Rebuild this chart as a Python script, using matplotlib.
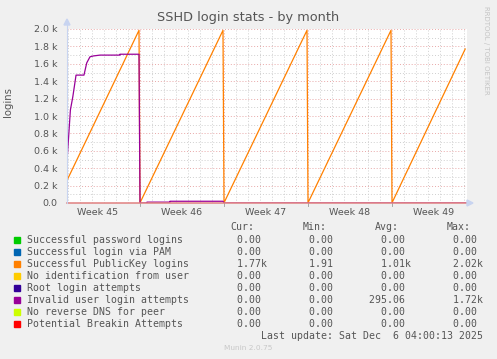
import matplotlib
matplotlib.use("Agg")
import matplotlib.pyplot as plt
from matplotlib.patches import Polygon, Rectangle

# ---------------- data ----------------
title = "SSHD login stats - by month"
ylabel = "logins"
week_labels = ["Week 45", "Week 46", "Week 47", "Week 48", "Week 49"]
week_centers = [-3.5, 3.5, 10.5, 17.5, 24.5]        # days relative to start of week 46
x_range = [-73 / 12, 327 / 12]                      # visible time span in days
y_ticks = [0, 200, 400, 600, 800, 1000, 1200, 1400, 1600, 1800, 2000]
y_tick_labels = ["0.0", "0.2 k", "0.4 k", "0.6 k", "0.8 k", "1.0 k",
                 "1.2 k", "1.4 k", "1.6 k", "1.8 k", "2.0 k"]

series_names = ["Successful password logins", "Successful login via PAM",
                "Successful PublicKey logins", "No identification from user",
                "Root login attempts", "Invalid user login attempts",
                "No reverse DNS for peer", "Potential Breakin Attempts"]
series_colors = ["#00CC00", "#0066B3", "#FF8000", "#FFCC00",
                 "#330099", "#990099", "#CCFF00", "#FF0000"]

pubkey_t = [-6.083, -0.083, 0.0, 6.917, 7.0, 13.917, 14.0, 20.917, 21.0, 27.1]
pubkey_v = [260, 1985, 2, 1985, 2, 1985, 2, 1985, 2, 1770]

invalid_t = [-6.083, -5.8, -5.6, -5.33, -4.67, -4.44, -4.17, -3.9, -3.33,
             -1.67, -1.67, -0.083, 0.0, 0.58, 0.58, 2.5, 2.5, 6.92, 7.0, 27.25]
invalid_v = [480, 1070, 1220, 1470, 1470, 1610, 1680, 1690, 1700,
             1700, 1710, 1710, 0, 0, 10, 10, 20, 20, 0, 0]

zero_t = [-6.083, 27.25]
zero_v = [0, 0]

cur_vals = ["  0.00 ", "  0.00 ", "  1.77k", "  0.00 ", "  0.00 ", "  0.00 ", "  0.00 ", "  0.00 "]
min_vals = ["  0.00 ", "  0.00 ", "  1.91 ", "  0.00 ", "  0.00 ", "  0.00 ", "  0.00 ", "  0.00 "]
avg_vals = ["  0.00 ", "  0.00 ", "  1.01k", "  0.00 ", "  0.00 ", "295.06 ", "  0.00 ", "  0.00 "]
max_vals = ["  0.00 ", "  0.00 ", "  2.02k", "  0.00 ", "  0.00 ", "  1.72k", "  0.00 ", "  0.00 "]
col_headers = ["Cur:", "Min:", "Avg:", "Max:"]
last_update = "Last update: Sat Dec  6 04:00:13 2025"
version = "Munin 2.0.75"
side_text = "RRDTOOL / TOBI OETIKER"

# ---------------- figure ----------------
W, H = 497, 359
fig = plt.figure(figsize=(W / 100, H / 100), dpi=100, facecolor="#F0F0F0")

def fx(px):
    return px / W

def fy(py):
    return 1 - py / H

L, R, T, B = 67, 467, 29, 203
ax = fig.add_axes([fx(L), fy(B), fx(R) - fx(L), fy(T) - fy(B)])
ax.set_facecolor("white")
ax.set_xlim(*x_range)
ax.set_ylim(0, 2000)
for s in ax.spines.values():
    s.set_visible(False)

# grid
minor_grid = "#CFCFCF"
major_grid = "#E8A8A8"
for v in range(100, 2001, 100):
    major = v % 200 == 0
    ax.axhline(v, color=major_grid if major else minor_grid, lw=0.7,
               ls=(0, (1, 2)), zorder=1)
d = -6
while d <= x_range[1]:
    major = d % 7 == 0
    ax.axvline(d, color=major_grid if major else minor_grid, lw=0.7,
               ls=(0, (1, 2)), zorder=1)
    d += 1

# series
for i, (name, col) in enumerate(zip(series_names, series_colors)):
    if i == 2:
        ax.plot(pubkey_t, pubkey_v, color=col, lw=0.9, zorder=3)
    elif i == 5:
        ax.plot(invalid_t, invalid_v, color=col, lw=0.9, zorder=3)
    else:
        ax.plot(zero_t, zero_v, color=col, lw=0.6, zorder=3)
ax.plot(zero_t, zero_v, color="#E08080", lw=1.1, zorder=4, clip_on=False)

# ticks
ax.set_yticks(y_ticks)
ax.set_yticklabels(y_tick_labels)
ax.set_xticks(week_centers)
ax.set_xticklabels(week_labels)
ax.tick_params(axis="both", length=0, labelsize=6.8, colors="#555555")
ax.tick_params(axis="y", pad=7)
ax.tick_params(axis="x", pad=3.5)
for d in [0, 7, 14, 21]:
    ax.plot([d, d], [-30, 0], color="#999999", lw=0.6, clip_on=False, zorder=2)

# axis lines and arrows (figure coordinates)
axis_col = "#C8D4F0"
fig.add_artist(plt.Line2D([fx(L), fx(L)], [fy(B), fy(24)], color=axis_col, lw=0.8))
fig.add_artist(Polygon([[fx(L - 3), fy(25)], [fx(L + 3), fy(25)], [fx(L), fy(19)]],
                       closed=True, color=axis_col, transform=fig.transFigure))
fig.add_artist(Polygon([[fx(R), fy(B - 3)], [fx(R), fy(B + 3)], [fx(R + 6), fy(B)]],
                       closed=True, color=axis_col, transform=fig.transFigure))

# texts
fig.text(fx(248), fy(18), title, ha="center", va="center", fontsize=9.3,
         color="#555555")
fig.text(fx(8), fy(102), ylabel, ha="center", va="center", rotation=90,
         fontsize=7.3, color="#555555")
fig.text(fx(486), fy(6), side_text, ha="center", va="top", rotation=270,
         fontsize=5, color="#C4C4C4")

mono = "DejaVu Sans Mono"
fs = 7.1
tc = "#555555"
hx = [230, 302.7, 375, 446.7]
for h, x in zip(col_headers, hx):
    fig.text(fx(x), fy(227), h, ha="left", va="center", family=mono, fontsize=fs, color=tc)
vx = [224.8, 297, 369, 441.4]
for i, name in enumerate(series_names):
    y = 239.7 + 12 * i
    fig.add_artist(Rectangle((fx(14), fy(y + 3)), fx(6), 6 / H,
                             color=series_colors[i], transform=fig.transFigure))
    fig.text(fx(26.7), fy(y), name, ha="left", va="center", family=mono, fontsize=fs, color=tc)
    for col, x in zip([cur_vals, min_vals, avg_vals, max_vals], vx):
        fig.text(fx(x), fy(y), col[i], ha="left", va="center", family=mono,
                 fontsize=fs, color=tc)
fig.text(fx(483), fy(335.7), last_update, ha="right", va="center", family=mono,
         fontsize=fs, color=tc)
fig.text(fx(248), fy(348), version, ha="center", va="center", fontsize=5.3,
         color="#C8C8C8")

fig.savefig("out.png", dpi=100, facecolor=fig.get_facecolor())
